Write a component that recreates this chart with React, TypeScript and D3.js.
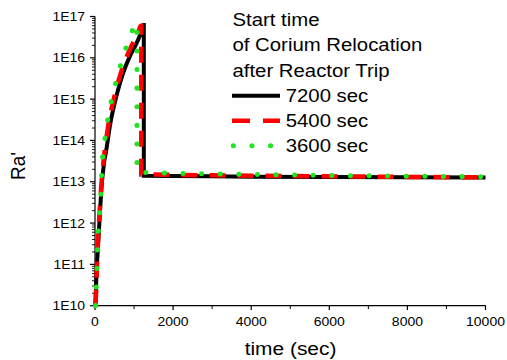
import React from "react";
import * as d3 from "d3";

// time (sec) and Ra' values for each relocation start time
const t7200 = [10, 35, 77, 120, 162, 230, 290, 376, 545, 717, 889, 1058, 1186, 1235, 1250, 1250, 2000, 3000, 4000, 6000, 8000, 10000];
const v7200 = [1e10, 5.0e10, 2.7e11, 1.4e12, 6.3e12, 2.8e13, 5.9e13, 2.1e14, 1.15e15, 4.2e15, 1.07e16, 2.2e16, 4.3e16, 6.2e16, 6.2e16, 1.4e13, 1.38e13, 1.35e13, 1.33e13, 1.3e13, 1.28e13, 1.26e13];

const t5400 = [10, 34, 59, 120, 165, 230, 333, 486, 674, 930, 1101, 1170, 1185, 1185, 2000, 3000, 4000, 6000, 8000, 10000];
const v5400 = [1e10, 2.8e10, 1.6e11, 2.0e12, 8.9e12, 4.0e13, 2.1e14, 1.05e15, 4.7e15, 1.9e16, 3.9e16, 6.0e16, 6.0e16, 1.5e13, 1.47e13, 1.43e13, 1.4e13, 1.35e13, 1.31e13, 1.28e13];

const t3600 = [15, 26, 43, 59, 77, 102, 136, 162, 179, 230, 376, 486, 607, 735, 889, 1058, 1075, 1075, 2000, 3000, 4000, 6000, 8000, 10000];
const v3600 = [1e10, 1.7e10, 4.9e10, 1.35e11, 3.9e11, 1.12e12, 3.1e12, 9.1e12, 2.5e13, 7.2e13, 5.8e14, 1.66e15, 4.6e15, 1.2e16, 2.95e16, 6.9e16, 6.9e16, 1.7e13, 1.6e13, 1.55e13, 1.5e13, 1.42e13, 1.36e13, 1.32e13];

const xMajorTicks = [0, 2000, 4000, 6000, 8000, 10000];
const xMinorTicks = [1000, 3000, 5000, 7000, 9000];
const yTickLabels = ["1E10", "1E11", "1E12", "1E13", "1E14", "1E15", "1E16", "1E17"];
const legendTitle = ["Start time", "of Corium Relocation", "after Reactor Trip"];
const seriesNames = ["7200 sec", "5400 sec", "3600 sec"];

const FONT = "'Liberation Sans', Arial, sans-serif";
const SX = 1.1;

export default function App() {
  const x = d3.scaleLinear().domain([0, 10000]).range([95, 485.5]);
  const y = d3.scaleLog().domain([1e10, 1e17]).range([305.7, 16.5]);
  const smooth = d3
    .line<[number, number]>()
    .x((d) => x(d[0]))
    .y((d) => y(d[1]))
    .curve(d3.curveMonotoneX);
  const straight = d3
    .line<[number, number]>()
    .x((d) => x(d[0]))
    .y((d) => y(d[1]));

  const buildPath = (t: number[], v: number[]) => {
    const pts = t.map((tt, j) => [tt, v[j]] as [number, number]);
    // rising part: up to the first repeated time (start of the vertical drop)
    let k = 1;
    while (k < pts.length && pts[k][0] > pts[k - 1][0]) k++;
    const rise = pts.slice(0, k);
    const rest = pts.slice(k - 1);
    const a = smooth(rise) || "";
    const b = (straight(rest) || "").replace(/^M/, "L");
    return a + b;
  };

  const series = [
    { t: t7200, v: v7200, stroke: "#000000", width: 4, dash: undefined as string | undefined, cap: "butt" },
    { t: t5400, v: v5400, stroke: "#ff0000", width: 4.5, dash: "16,12", cap: "butt" },
    { t: t3600, v: v3600, stroke: "#1ee61e", width: 5, dash: "0.1,18.5", cap: "round" },
  ];

  const yMajor = yTickLabels.map((_, i) => Math.pow(10, 10 + i));
  const yMinor: number[] = [];
  for (let e = 10; e < 17; e++) for (let k = 2; k <= 9; k++) yMinor.push(k * Math.pow(10, e));

  const legendY = [95.7, 120.7, 145.7];

  return (
    <svg width={507} height={360} style={{ position: "absolute", left: 0, top: 0, background: "#fff" }}>
      {/* axes */}
      <line x1={95} x2={95} y1={16.5} y2={306.3} stroke="#000" strokeWidth={1.2} />
      <line x1={94.4} x2={486} y1={305.7} y2={305.7} stroke="#000" strokeWidth={1.2} />
      {yMajor.map((v, i) => (
        <g key={"ym" + i}>
          <line x1={90} x2={95} y1={y(v)} y2={y(v)} stroke="#000" strokeWidth={1.2} />
          <text
            transform={`translate(85,${y(v) + 4.5}) scale(${SX},1)`}
            textAnchor="end"
            fontFamily={FONT}
            fontSize={12.7}
            fill="#000"
          >
            {yTickLabels[i]}
          </text>
        </g>
      ))}
      {yMinor.map((v, i) => (
        <line key={"yn" + i} x1={92} x2={95} y1={y(v)} y2={y(v)} stroke="#000" strokeWidth={0.9} />
      ))}
      {xMajorTicks.map((v) => (
        <g key={"xm" + v}>
          <line x1={x(v)} x2={x(v)} y1={305.7} y2={310} stroke="#000" strokeWidth={1.2} />
          <text
            transform={`translate(${x(v)},325.7) scale(${SX},1)`}
            textAnchor="middle"
            fontFamily={FONT}
            fontSize={12.7}
            fill="#000"
          >
            {v}
          </text>
        </g>
      ))}
      {xMinorTicks.map((v) => (
        <line key={"xn" + v} x1={x(v)} x2={x(v)} y1={305.7} y2={309} stroke="#000" strokeWidth={1} />
      ))}
      {/* axis titles */}
      <text
        transform={`translate(290.5,355) scale(${SX},1)`}
        textAnchor="middle"
        fontFamily={FONT}
        fontSize={19}
        fill="#000"
      >
        time (sec)
      </text>
      <text
        transform={`translate(25,166) rotate(-90) scale(1,${SX})`}
        textAnchor="middle"
        fontFamily={FONT}
        fontSize={19}
        fill="#000"
      >
        Ra'
      </text>
      {/* series */}
      {series.map((s, i) => (
        <path
          key={"s" + i}
          d={buildPath(s.t, s.v)}
          fill="none"
          stroke={s.stroke}
          strokeWidth={s.width}
          strokeDasharray={s.dash}
          strokeLinecap={s.cap as any}
          strokeLinejoin="miter"
        />
      ))}
      {/* legend */}
      {legendTitle.map((txt, i) => (
        <text
          key={"lt" + i}
          transform={`translate(232.5,${26 + i * 25.3}) scale(${SX},1)`}
          fontFamily={FONT}
          fontSize={18.5}
          fill="#000"
        >
          {txt}
        </text>
      ))}
      {series.map((s, i) => (
        <g key={"lg" + i}>
          <line
            x1={i === 2 ? 233.3 : 232}
            x2={280}
            y1={legendY[i]}
            y2={legendY[i]}
            stroke={s.stroke}
            strokeWidth={s.width}
            strokeDasharray={i === 1 ? "18,13" : s.dash}
            strokeLinecap={s.cap as any}
          />
          <text
            transform={`translate(285.7,${legendY[i] + 6.2}) scale(${SX},1)`}
            fontFamily={FONT}
            fontSize={18.5}
            fill="#000"
          >
            {seriesNames[i]}
          </text>
        </g>
      ))}
    </svg>
  );
}
